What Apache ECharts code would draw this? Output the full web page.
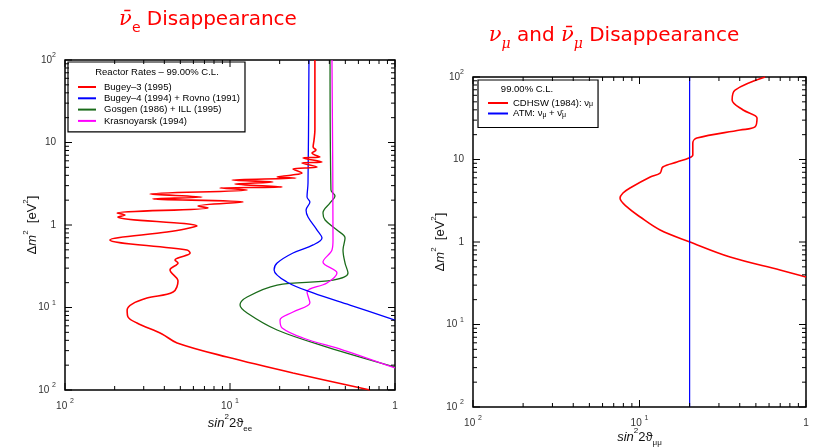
<!DOCTYPE html>
<html><head><meta charset="utf-8">
<script src="https://cdn.jsdelivr.net/npm/echarts@6/dist/echarts.min.js"></script>
<style>html,body{margin:0;padding:0;background:#fff}#c{width:814px;height:448px}</style>
</head><body><div id="c"></div>
<script>
// ---- axis ticks ----
const xExponents = [-2, -1, 0];
const yExponents = [-2, -1, 0, 1, 2];
const tickExponents = [-2, -1, 0, 1, 2];
const tickLabels = ['10 {s|2}', '10 {s|1}', '1', '10', '10{s|2}'];
const minorMultipliers = [2, 3, 4, 5, 6, 7, 8, 9];
const SIN_MIN = 0.01, SIN_MAX = 1, DM_MIN = 0.01, DM_MAX = 100;

// ---- left panel: [sin^2 2theta_ee, dm^2] ----
const bugey3 = [[0.327,100],[0.327,14.2],[0.323,10.7],[0.319,8.82],[0.332,8.11],[0.314,7.46],[0.351,6.67],[0.277,6.49],[0.361,5.80],[0.273,5.65],[0.337,5.05],[0.285,4.91],[0.241,4.77],[0.273,4.27],[0.238,4.04],[0.193,3.82],[0.251,3.71],[0.103,3.51],[0.182,3.32],[0.107,3.14],[0.207,2.89],[0.0869,2.81],[0.127,2.66],[0.0327,2.38],[0.0676,2.18],[0.0341,2.07],[0.120,1.90],[0.0640,1.70],[0.0736,1.61],[0.0207,1.40],[0.0231,1.32],[0.0209,1.25],[0.0631,0.972],[0.0534,0.895],[0.0415,0.823],[0.0187,0.658],[0.0548,0.498],[0.0573,0.458],[0.0484,0.398],[0.0464,0.377],[0.0484,0.346],[0.0433,0.285],[0.0484,0.210],[0.0452,0.154],[0.0314,0.130],[0.0255,0.110],[0.0238,0.0933],[0.0241,0.0767],[0.0273,0.0649],[0.0387,0.0478],[0.0478,0.0372],[0.0959,0.0251],[0.241,0.0161],[0.705,0.01]];
const bugey4 = [[0.301,100],[0.297,3.23],[0.293,2.18],[0.305,1.90],[0.289,1.52],[0.297,1.25],[0.337,0.869],[0.361,0.695],[0.319,0.573],[0.241,0.458],[0.193,0.346],[0.185,0.285],[0.221,0.204],[0.319,0.150],[0.533,0.107],[1,0.0705]];
const gosgen = [[0.404,100],[0.409,2.66],[0.433,2.25],[0.404,1.85],[0.366,1.40],[0.377,1.15],[0.445,0.869],[0.498,0.695],[0.484,0.498],[0.498,0.346],[0.519,0.262],[0.421,0.215],[0.193,0.187],[0.127,0.134],[0.115,0.107],[0.127,0.0858],[0.193,0.0534],[0.387,0.0332],[1,0.0190]];
const krasnoyarsk = [[0.415,100],[0.421,0.658],[0.415,0.498],[0.366,0.356],[0.445,0.262],[0.387,0.198],[0.293,0.154],[0.305,0.114],[0.241,0.0881],[0.201,0.0705],[0.207,0.0565],[0.277,0.0427],[0.484,0.0305],[1,0.0185]];
const leftNames = ['Bugey\u20133 (1995)', 'Bugey\u20134 (1994) + Rovno (1991)', 'Gosgen (1986) + ILL (1995)', 'Krasnoyarsk (1994)'];

// ---- right panel: [sin^2 2theta_mumu, dm^2] ----
const cdhsw = [[0.568,100],[0.375,69.5],[0.360,52.6],[0.419,39.8],[0.508,31.8],[0.494,24.8],[0.402,22.8],[0.221,18.2],[0.209,15.8],[0.209,11.3],[0.198,10.4],[0.168,9.33],[0.138,8.11],[0.133,6.86],[0.116,6.14],[0.0877,4.52],[0.0796,3.93],[0.0764,3.41],[0.0841,2.66],[0.101,2.01],[0.133,1.40],[0.201,1.0],[0.350,0.658],[0.698,0.458],[1,0.377]];
const atm = [[0.2,0.01],[0.2,100]];
const rightNames = ['CDHSW (1984): \u03bd\u03bc', 'ATM: \u03bd\u03bc + \u03bd\u0304\u03bc'];
const rightLegendText = ['CDHSW (1984): \u03bd{b|\u03bc}', 'ATM: \u03bd{b|\u03bc} + \u03bd\u0304{b|\u03bc}'];

const FONT = 'Liberation Sans';
function tickFormatter(v) {
  const e = Math.round(Math.log10(v));
  const i = tickExponents.indexOf(e);
  return i >= 0 ? tickLabels[i] : '';
}
const labelRich = { s: { fontSize: 7, fontFamily: FONT, color: '#333', verticalAlign: 'top', lineHeight: 8 } };
const nameRich = {
  i: { fontStyle: 'italic', fontSize: 13, fontFamily: FONT, color: '#111' },
  p: { fontSize: 8, fontFamily: FONT, color: '#111', verticalAlign: 'top', lineHeight: 9 },
  b: { fontSize: 8, fontFamily: FONT, color: '#111', verticalAlign: 'bottom', lineHeight: 9 }
};

function makeAxis(gi, kind, name, nameGap) {
  return {
    type: 'log', logBase: 10, gridIndex: gi,
    min: kind === 'x' ? SIN_MIN : DM_MIN, max: kind === 'x' ? SIN_MAX : DM_MAX,
    axisLine: { show: false }, axisTick: { show: false }, splitLine: { show: false },
    axisLabel: { formatter: tickFormatter, color: '#333', fontSize: 10, fontFamily: FONT,
      lineHeight: 16, margin: kind === 'x' ? 8 : 9, rich: labelRich },
    name: name, nameLocation: 'middle', nameGap: nameGap, nameMoveOverlap: false,
    nameTextStyle: { fontSize: 13, fontFamily: FONT, color: '#111', lineHeight: 20, rich: nameRich }
  };
}

function tickValues(exps) {
  const out = [];
  exps.forEach((e, i) => {
    const b = Math.pow(10, e);
    out.push([b, 1]);
    if (i < exps.length - 1) minorMultipliers.forEach(m => out.push([m * b, 0]));
  });
  return out;
}
function tickSeries(gi, dir) {
  const vals = tickValues(dir === 'x' ? xExponents : yExponents);
  return {
    type: 'custom', xAxisIndex: gi, yAxisIndex: gi, silent: true, z: 10, animation: false,
    data: vals.map(v => dir === 'x' ? [v[0], 1, v[1]] : [0.1, v[0], v[1]]),
    encode: { x: 0, y: 1 },
    renderItem(params, api) {
      const len = api.value(2) === 1 ? 7 : 4;
      let lines;
      if (dir === 'x') {
        const v = api.value(0);
        const a = api.coord([v, DM_MIN]), b = api.coord([v, DM_MAX]);
        lines = [[a[0], a[1], a[0], a[1] - len], [b[0], b[1], b[0], b[1] + len]];
      } else {
        const v = api.value(1);
        const a = api.coord([SIN_MIN, v]), b = api.coord([SIN_MAX, v]);
        lines = [[a[0], a[1], a[0] + len, a[1]], [b[0], b[1], b[0] - len, b[1]]];
      }
      return { type: 'group', children: lines.map(l => ({ type: 'line',
        shape: { x1: l[0], y1: l[1], x2: l[2], y2: l[3] }, style: { stroke: '#000', lineWidth: 1 } })) };
    }
  };
}
function curve(name, data, color, gi, width) {
  return { type: 'line', name: name, data: data, xAxisIndex: gi, yAxisIndex: gi,
    symbol: 'none', smooth: 0.35, lineStyle: { color: color, width: width || 1.3 },
    itemStyle: { color: color }, animation: false, z: 3 };
}

const chart = echarts.init(document.getElementById('c'), null, { renderer: 'canvas' });
chart.setOption({
  backgroundColor: '#fff',
  animation: false,
  grid: [
    { left: 65, top: 60, width: 330, height: 330, show: true, borderColor: '#000', borderWidth: 1.5,
      backgroundColor: 'transparent', containLabel: false, outerBoundsMode: 'none' },
    { left: 473, top: 77, width: 333, height: 330, show: true, borderColor: '#000', borderWidth: 1.5,
      backgroundColor: 'transparent', containLabel: false, outerBoundsMode: 'none' }
  ],
  xAxis: [
    makeAxis(0, 'x', '{i|sin}{p|2}2\u03d1{b|ee}', 23),
    makeAxis(1, 'x', '{i|sin}{p|2}2\u03d1{b|\u03bc\u03bc}', 20)
  ],
  yAxis: [
    makeAxis(0, 'y', '\u0394{i|m}{p|2}  [eV{p|2}]', 23),
    makeAxis(1, 'y', '\u0394{i|m}{p|2}  [eV{p|2}]', 23)
  ],
  legend: [
    { data: leftNames, left: 68, top: 62, orient: 'vertical', selectedMode: false,
      itemWidth: 18, itemHeight: 10, itemGap: 1.3, padding: [20, 5, 6, 9],
      itemStyle: { opacity: 0, color: 'transparent', borderWidth: 0 },
      borderColor: '#000', borderWidth: 1.2, backgroundColor: '#fff',
      textStyle: { fontSize: 9.5, fontFamily: FONT, color: '#000', padding: [0, 0, 0, 3] } },
    { data: rightNames, left: 478, top: 80, orient: 'vertical', selectedMode: false,
      itemWidth: 20, itemHeight: 10, itemGap: 0.5, padding: [18, 5, 9, 9],
      itemStyle: { opacity: 0, color: 'transparent', borderWidth: 0 },
      borderColor: '#000', borderWidth: 1.2, backgroundColor: '#fff',
      formatter: n => rightLegendText[rightNames.indexOf(n)],
      textStyle: { fontSize: 9.5, fontFamily: FONT, color: '#000', padding: [0, 0, 0, 0],
        rich: { b: { fontSize: 7, fontFamily: FONT, color: '#000', verticalAlign: 'bottom', lineHeight: 7 } } } }
  ],
  graphic: [
    { type: 'text', x: 208, y: 20, z: 100, style: {
      text: '{v|\u03bd\u0304}{b|e} Disappearance', align: 'center', verticalAlign: 'middle',
      fill: '#ff0000', fontSize: 20, fontFamily: 'DejaVu Sans', lineHeight: 30,
      rich: { v: { fontSize: 21, fontFamily: 'DejaVu Serif', fontStyle: 'italic', fill: '#ff0000', lineHeight: 30 },
              b: { fontSize: 14, fontFamily: 'DejaVu Sans', fill: '#ff0000', verticalAlign: 'bottom', lineHeight: 14 } } } },
    { type: 'text', x: 614, y: 36, z: 100, style: {
      text: '{v|\u03bd}{b|\u03bc} and {v|\u03bd\u0304}{b|\u03bc} Disappearance', align: 'center', verticalAlign: 'middle',
      fill: '#ff0000', fontSize: 20, fontFamily: 'DejaVu Sans', lineHeight: 30,
      rich: { v: { fontSize: 21, fontFamily: 'DejaVu Serif', fontStyle: 'italic', fill: '#ff0000', lineHeight: 30 },
              b: { fontSize: 14, fontFamily: 'DejaVu Serif', fontStyle: 'italic', fill: '#ff0000', verticalAlign: 'bottom', lineHeight: 14 } } } },
    { type: 'text', x: 157, y: 72, z: 100, style: { text: 'Reactor Rates \u2013 99.00% C.L.', align: 'center', verticalAlign: 'middle',
      fill: '#000', fontSize: 9.5, fontFamily: FONT } },
    { type: 'text', x: 527, y: 89, z: 100, style: { text: '99.00% C.L.', align: 'center', verticalAlign: 'middle',
      fill: '#000', fontSize: 9.5, fontFamily: FONT } }
  ],
  series: [
    curve(leftNames[2], gosgen, '#1a6b1a', 0, 1.3),
    curve(leftNames[3], krasnoyarsk, '#ff00ff', 0, 1.3),
    curve(leftNames[1], bugey4, '#0000ff', 0, 1.3),
    curve(leftNames[0], bugey3, '#ff0000', 0, 1.6),
    curve(rightNames[0], cdhsw, '#ff0000', 1, 1.6),
    curve(rightNames[1], atm, '#0000ff', 1, 1.2),
    tickSeries(0, 'x'), tickSeries(0, 'y'), tickSeries(1, 'x'), tickSeries(1, 'y')
  ]
});
</script></body></html>
